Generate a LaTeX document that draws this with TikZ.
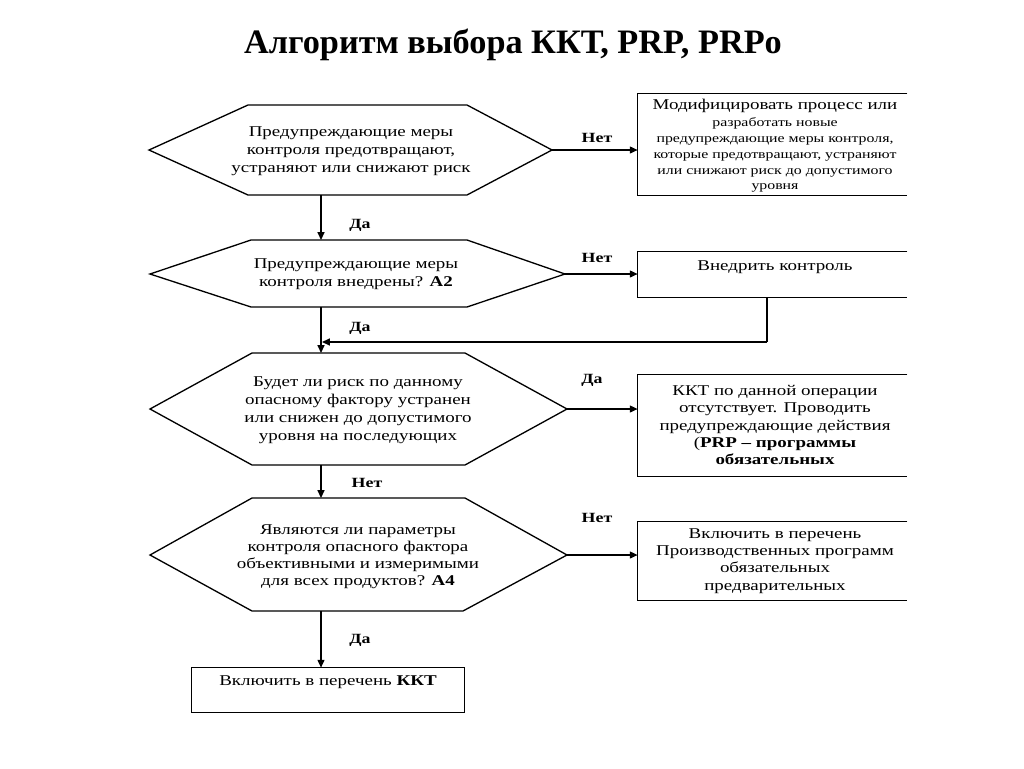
\documentclass[tikz,border=0pt]{standalone}
\usepackage{fontspec}
\setmainfont{Liberation Serif}
\newfontfamily\dg{Liberation Serif}[FakeStretch=1.27]
\newcommand\smalltxt{\fontsize{7.1}{8.3}\selectfont}
\usetikzlibrary{arrows.meta,fit}
\tikzset{
  ln/.style={draw=black,line width=0.75pt},
  arr/.style={ln,-{Triangle[length=4.5pt,width=4pt]}},
  txt/.style={align=center,inner sep=0pt,font=\dg\fontsize{8.5}{10.2}\selectfont},
  lbl/.style={inner sep=0pt,font=\dg\bfseries\fontsize{8}{9}\selectfont},
  frame/.style={inner sep=0pt,draw=none},
}
\begin{document}
\begin{tikzpicture}[x=0.02cm,y=-0.02cm]
\useasboundingbox[fill=white] (0,0) rectangle (1024,768);

% title
\node[font=\bfseries\fontsize{19.5}{22}\selectfont] (title) at (513,45) {Алгоритм выбора ККТ, PRP, PRPo};

% hexagon 1
\coordinate (h1l) at (149,150); \coordinate (h1tl) at (248,105); \coordinate (h1tr) at (467,105);
\coordinate (h1r) at (552,150); \coordinate (h1br) at (467,195); \coordinate (h1bl) at (248,195);
\draw[ln] (h1l) -- (h1tl) -- (h1tr) -- (h1r) -- (h1br) -- (h1bl) -- cycle;
\node[txt] (t1) at (351,151) {Предупреждающие меры\\контроля предотвращают,\\устраняют или снижают риск};

% hexagon 2
\coordinate (h2l) at (150,274); \coordinate (h2tl) at (251,240); \coordinate (h2tr) at (467,240);
\coordinate (h2r) at (565,274); \coordinate (h2br) at (467,307); \coordinate (h2bl) at (251,307);
\draw[ln] (h2l) -- (h2tl) -- (h2tr) -- (h2r) -- (h2br) -- (h2bl) -- cycle;
\node[txt] (t2) at (356,274) {Предупреждающие меры\\контроля внедрены? \textbf{A2}};

% hexagon 3
\coordinate (h3l) at (150,409); \coordinate (h3tl) at (252,353); \coordinate (h3tr) at (465,353);
\coordinate (h3r) at (567,409); \coordinate (h3br) at (465,465); \coordinate (h3bl) at (252,465);
\draw[ln] (h3l) -- (h3tl) -- (h3tr) -- (h3r) -- (h3br) -- (h3bl) -- cycle;
\node[txt] (t3) at (358,410) {Будет ли риск по данному\\опасному фактору устранен\\или снижен до допустимого\\уровня на последующих};

% hexagon 4
\coordinate (h4l) at (150,555); \coordinate (h4tl) at (252,498); \coordinate (h4tr) at (465,498);
\coordinate (h4r) at (567,555); \coordinate (h4br) at (463,611); \coordinate (h4bl) at (252,611);
\draw[ln] (h4l) -- (h4tl) -- (h4tr) -- (h4r) -- (h4br) -- (h4bl) -- cycle;
\node[txt,font=\dg\fontsize{8.5}{9.6}\selectfont] (t4) at (358,557) {Являются ли параметры\\контроля опасного фактора\\объективными и измеримыми\\для всех продуктов? \textbf{A4}};

% boxes (open on the right)
\coordinate (b1a) at (638,94);  \coordinate (b1b) at (907,195);
\node[frame,fit=(b1a)(b1b)] (b1) {};
\draw[ln] (b1.north east) -- (b1.north west) -- (b1.south west) -- (b1.south east);
\node[txt] (tb1) at (775,146) {Модифицировать процесс или\\[-0.6pt]
  {\smalltxt разработать новые}\\[-1.2pt]
  {\smalltxt предупреждающие меры контроля,}\\[-1.2pt]
  {\smalltxt которые предотвращают, устраняют}\\[-1.2pt]
  {\smalltxt или снижают риск до допустимого}\\[-1.2pt]
  {\smalltxt уровня}};

\coordinate (b2a) at (638,252); \coordinate (b2b) at (907,297);
\node[frame,fit=(b2a)(b2b)] (b2) {};
\draw[ln] (b2.north east) -- (b2.north west) -- (b2.south west) -- (b2.south east);
\node[txt] (tb2) at (775,267) {Внедрить контроль};

\coordinate (b3a) at (638,375); \coordinate (b3b) at (907,476);
\node[frame,fit=(b3a)(b3b)] (b3) {};
\draw[ln] (b3.north east) -- (b3.north west) -- (b3.south west) -- (b3.south east);
\node[txt,font=\dg\fontsize{8.5}{9.75}\selectfont] (tb3) at (775,425) {ККТ по данной операции\\отсутствует. Проводить\\предупреждающие действия\\(\textbf{PRP – программы}\\\textbf{обязательных}};

\coordinate (b4a) at (638,522); \coordinate (b4b) at (907,600);
\node[frame,fit=(b4a)(b4b)] (b4) {};
\draw[ln] (b4.north east) -- (b4.north west) -- (b4.south west) -- (b4.south east);
\node[txt,font=\dg\fontsize{8.5}{9.8}\selectfont] (tb4) at (775,561) {Включить в перечень\\Производственных программ\\обязательных\\предварительных};

\coordinate (b5a) at (192,668); \coordinate (b5b) at (464,712);
\node[frame,fit=(b5a)(b5b)] (b5) {};
\draw[ln] (b5.north west) rectangle (b5.south east);
\node[txt] (tb5) at (328,682) {Включить в перечень \textbf{ККТ}};

% horizontal arrows
\draw[arr] (h1r) -- (b1.west |- h1r);
\draw[arr] (h2r) -- (b2.west |- h2r);
\draw[arr] (h3r) -- (b3.west |- h3r);
\draw[arr] (h4r) -- (b4.west |- h4r);

% vertical arrows
\coordinate (v1a) at (321,195); \coordinate (v1b) at (321,240);
\coordinate (v2a) at (321,307); \coordinate (v2b) at (321,353);
\coordinate (v3a) at (321,465); \coordinate (v3b) at (321,498);
\coordinate (v4a) at (321,611);
\draw[arr] (v1a) -- (v1b);
\draw[arr] (v2a) -- (v2b);
\draw[arr] (v3a) -- (v3b);
\draw[arr] (v4a) -- (v4a |- b5.north);

% feedback from "Внедрить контроль"
\coordinate (fb) at (767,342); \coordinate (fbe) at (322,342);
\draw[ln] (b2.south -| fb) -- (fb);
\draw[arr] (fb) -- (fbe);

% labels
\node[lbl] (l1) at (597,138) {Нет};
\node[lbl] (l2) at (360,225) {Да};
\node[lbl] (l3) at (597,258) {Нет};
\node[lbl] (l4) at (360,328) {Да};
\node[lbl] (l5) at (592,380) {Да};
\node[lbl] (l6) at (367,483) {Нет};
\node[lbl] (l7) at (597,518) {Нет};
\node[lbl] (l8) at (360,640) {Да};
\end{tikzpicture}
\end{document}
